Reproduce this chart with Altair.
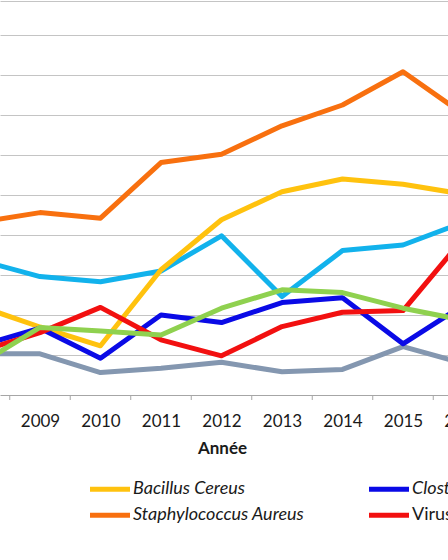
import altair as alt
import pandas as pd

years = [2008, 2009, 2010, 2011, 2012, 2013, 2014, 2015, 2016]

bacillus = [22.2, 17.0, 12.3, 31.3, 43.8, 50.8, 54.0, 52.7, 50.2]
clostridium = [12.3, 16.7, 9.2, 20.0, 18.1, 23.1, 24.3, 12.8, 22.5]
staphylococcus = [43.2, 45.6, 44.2, 58.1, 60.2, 67.3, 72.5, 80.8, 70.2]
virus = [10.9, 15.6, 21.9, 13.8, 9.8, 17.1, 20.7, 21.1, 39.2]
salmonella = [33.7, 29.6, 28.3, 31.0, 39.8, 24.6, 36.1, 37.5, 43.2]
autres = [7.7, 16.9, 16.0, 15.0, 21.7, 26.3, 25.6, 21.7, 18.7]
inconnu = [10.3, 10.3, 5.6, 6.7, 8.2, 5.8, 6.4, 12.1, 7.9]

# legend fills column by column (2 rows)
legend_order = ["Bacillus Cereus", "Staphylococcus Aureus",
                "Clostridium Perfringens", "Virus",
                "Salmonella", "Autres", "Agent inconnu"]
legend_colors = ["#FFC20E", "#F8700F", "#0A0AE6", "#F21010",
                 "#12B2EC", "#8FD14F", "#8497B0"]

draw_order = [("Salmonella", salmonella), ("Agent inconnu", inconnu),
              ("Bacillus Cereus", bacillus), ("Clostridium Perfringens", clostridium),
              ("Virus", virus), ("Staphylococcus Aureus", staphylococcus),
              ("Autres", autres)]

rows = []
for name, vals in draw_order:
    for yr, v in zip(years, vals):
        rows.append({"Année": yr, "Valeur": v, "Agent": name})
df = pd.DataFrame(rows)

tick_pos = pd.DataFrame({"t": [y + 0.5 for y in years]})
grid_values = [10, 20, 30, 40, 50, 60, 70, 80, 90, 98.6]

xscale = alt.Scale(domain=[2008.339, 2016.603], zero=False, nice=False)
yscale = alt.Scale(domain=[0, 98.75], zero=False, nice=False)

lines = alt.Chart(df).mark_line(
    strokeWidth=5, strokeJoin="round", strokeCap="round", clip=True
).encode(
    x=alt.X("Année:Q", scale=xscale,
            axis=alt.Axis(values=years, format="d", ticks=False, grid=False,
                          labelFlush=False, labelOverlap=False,
                          labelFont="Lato", labelFontSize=17, labelColor="#1a1a1a",
                          labelPadding=18,
                          title="Année", titleFont="Lato", titleFontSize=17,
                          titleFontWeight="bold", titleColor="#1a1a1a",
                          titlePadding=11, titleX=222,
                          domainColor="#A6A6A6", domainWidth=1)),
    y=alt.Y("Valeur:Q", scale=yscale,
            axis=alt.Axis(values=grid_values, grid=True, labels=False, ticks=False,
                          domain=False, title=None, gridColor="#C4C4C4", gridWidth=1)),
    color=alt.Color("Agent:N",
                    scale=alt.Scale(domain=legend_order, range=legend_colors),
                    legend=alt.Legend(orient="none", legendX=97.5, legendY=476.5,
                                      columns=4, title=None, padding=0,
                                      symbolType="M-2,0H2", symbolSize=400,
                                      symbolStrokeWidth=5,
                                      labelFont="Lato", labelFontSize=18,
                                      labelColor="#1a1a1a",
                                      labelFontStyle={"expr": "datum.label == 'Virus' ? 'normal' : 'italic'"},
                                      labelOffset=10.5, columnPadding=54, rowPadding=3.3,
                                      labelLimit=400)),
)

ticks = alt.Chart(tick_pos).mark_rule(color="#A6A6A6", strokeWidth=1).encode(
    x=alt.X("t:Q", scale=xscale),
    y=alt.value(395),
    y2=alt.value(400),
)

chart = alt.layer(lines, ticks).properties(
    width=500, height=395,
    autosize=alt.AutoSizeParams(type="none"),
    padding={"left": 0, "top": 0, "right": -52, "bottom": 165},
).configure_view(stroke=None)

chart.save("out.html", embed_options={"renderer": "svg", "actions": False})
